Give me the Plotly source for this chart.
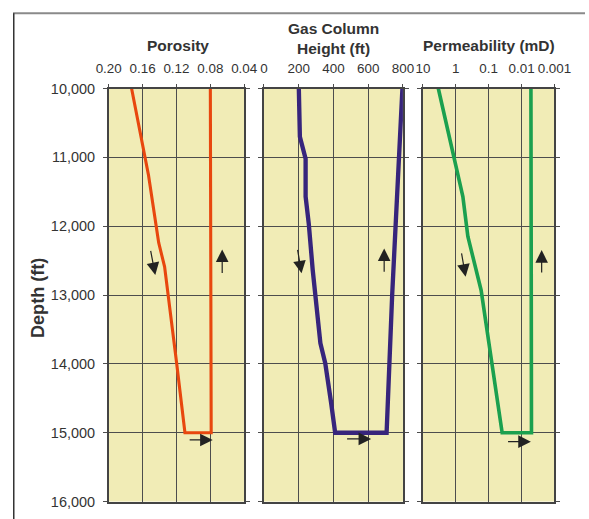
import plotly.graph_objects as go

# ---------------- data ----------------
depth_por = [10000, 10980, 11260, 12240, 12590, 13970, 15000, 15000, 10000]
porosity = [0.173, 0.158, 0.153, 0.141, 0.134, 0.120, 0.110, 0.079, 0.080]

depth_gas = [10000, 10700, 11020, 11570, 11960, 12640, 13700, 13990, 14570, 15000, 15000, 13000, 10000]
gas_height = [201, 207, 240, 240, 258, 281, 325, 353, 387, 410, 706, 738, 797]

depth_perm = [10000, 11050, 11570, 12150, 12930, 15000, 15000, 10000]
permeability = [3.4, 1.08, 0.61, 0.43, 0.17, 0.039, 0.005, 0.0052]

por_ticks = [0.20, 0.16, 0.12, 0.08, 0.04]
gas_ticks = [0, 200, 400, 600, 800]
perm_ticks = [10, 1, 0.1, 0.01, 0.001]
perm_ticktext = ["10", "1", "0.1", "0.01", "0.001"]
depth_ticks = [10000, 11000, 12000, 13000, 14000, 15000, 16000]

# arrows: (axis suffix, tail_x, tail_y, head_x, head_y) in data units (perm x in log10)
arrows = [
    ("", 0.1508, 12337, 0.145, 12710),
    ("", 0.066, 12700, 0.066, 12337),
    ("", 0.1062, 15105, 0.0772, 15105),
    ("2", 192.5, 12323, 216.8, 12685),
    ("2", 692, 12685, 692, 12323),
    ("2", 470, 15090, 617, 15090),
    ("3", -0.167, 12372, -0.298, 12735),
    ("3", -2.61, 12695, -2.61, 12347),
    ("3", -1.543, 15130, -2.282, 15130),
]

# the page is photographed with an 8px body margin and scaled to the window,
# so lay the figure out in slightly larger pixels
OFF = 8
SX, SY = 0.9656, 0.970
S = (SX + SY) / 2
W, H = round(589 / SX - OFF), round(519 / SY - OFF)


def px(r):
    return (r / SX - OFF) / W


def py(r):
    return 1 - (r / SY - OFF) / H


def fs(v):
    return v / S


BG = "#F1ECB6"
GRID = "#4d4d4d"
TXT = "#333333"
FONT = "Liberation Sans, Arial, sans-serif"

fig = go.Figure()
fig.add_trace(go.Scatter(x=porosity, y=depth_por, mode="lines",
                         line=dict(color="#E8470E", width=fs(3)), xaxis="x", yaxis="y"))
fig.add_trace(go.Scatter(x=gas_height, y=depth_gas, mode="lines",
                         line=dict(color="#37257C", width=fs(4.2)), xaxis="x2", yaxis="y2"))
fig.add_trace(go.Scatter(x=permeability, y=depth_perm, mode="lines",
                         line=dict(color="#1BA04F", width=fs(3.5)), xaxis="x3", yaxis="y3"))

ytop = py(88.3)
ybot = py(501.5)
dom1 = [px(105), px(242.7)]
dom2 = [px(262.7), px(404)]
dom3 = [px(424.3), px(558)]

common_x = dict(side="top", showgrid=True, gridcolor=GRID, gridwidth=1,
                showline=True, linecolor="#444", linewidth=1.5, mirror=True,
                ticks="outside", ticklen=3, tickcolor=GRID, zeroline=False,
                ticklabelstandoff=5,
                tickfont=dict(size=fs(13), color=TXT, family=FONT))
common_y = dict(domain=[ybot, ytop], range=[16000, 10000], tickvals=depth_ticks,
                showgrid=True, gridcolor=GRID, gridwidth=1, zeroline=False,
                showline=True, linecolor="#444", linewidth=1.5, mirror="ticks",
                ticks="outside", ticklen=4, tickcolor=GRID,
                tickfont=dict(size=fs(14), color=TXT, family=FONT))

fig.update_layout(
    width=W, height=H, margin=dict(l=0, r=0, t=0, b=0),
    paper_bgcolor="white", plot_bgcolor=BG, showlegend=False,
    font=dict(family=FONT, color=TXT),
    xaxis=dict(domain=dom1, range=[0.20, 0.04], tickvals=por_ticks,
               tickformat=".2f", anchor="y", **common_x),
    xaxis2=dict(domain=dom2, range=[0, 800], tickvals=gas_ticks,
                anchor="y2", **common_x),
    xaxis3=dict(domain=dom3, type="log", range=[1, -3], tickvals=perm_ticks,
                ticktext=perm_ticktext, anchor="y3", **common_x),
    yaxis=dict(anchor="x", tickformat=",d", showticklabels=True,
               ticklabelstandoff=5, **common_y),
    yaxis2=dict(anchor="x2", showticklabels=False, **common_y),
    yaxis3=dict(anchor="x3", showticklabels=False, **common_y),
)

anns = []
for ax_id, tx, ty, hx, hy in arrows:
    anns.append(dict(xref="x" + ax_id, yref="y" + ax_id, axref="x" + ax_id, ayref="y" + ax_id,
                     x=hx, y=hy, ax=tx, ay=ty, showarrow=True, arrowhead=2,
                     arrowsize=2.1, arrowwidth=1.2, arrowcolor="#222", text=""))

title_font = dict(size=fs(15), color=TXT, family=FONT)
anns += [
    dict(xref="paper", yref="paper", x=px(175), y=py(45), text="<b>Porosity</b>",
         showarrow=False, font=title_font, xanchor="center", yanchor="middle"),
    dict(xref="paper", yref="paper", x=px(333), y=py(38),
         text="<b>Gas Column</b><br><b>Height (ft)</b>",
         showarrow=False, font=title_font, xanchor="center", yanchor="middle"),
    dict(xref="paper", yref="paper", x=px(491), y=py(45), text="<b>Permeability (mD)</b>",
         showarrow=False, font=title_font, xanchor="center", yanchor="middle"),
    dict(xref="paper", yref="paper", x=px(33), y=py(298), text="<b>Depth (ft)</b>",
         showarrow=False, font=dict(size=fs(17.5), color=TXT, family=FONT), textangle=-90,
         xanchor="center", yanchor="middle"),
]
fig.update_layout(annotations=anns)

fig.update_layout(shapes=[
    dict(type="line", xref="paper", yref="paper", x0=0, x1=1, y0=py(13), y1=py(13),
         line=dict(color="#8a8a8a", width=2)),
    dict(type="line", xref="paper", yref="paper", x0=0.8 / W, x1=0.8 / W, y0=0, y1=py(13),
         line=dict(color="#333", width=1.5)),
])

fig.write_html("out.html")
